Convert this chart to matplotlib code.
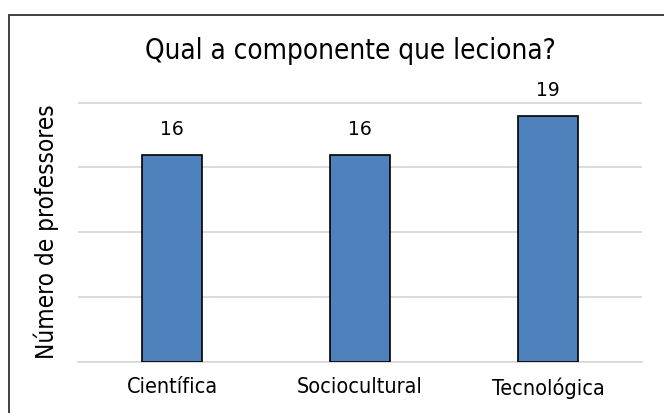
import matplotlib
matplotlib.use("Agg")
import matplotlib.pyplot as plt
from matplotlib.patches import Rectangle

categories = ["Científica", "Sociocultural", "Tecnológica"]
values = [16, 16, 19]
yticks = [0, 5, 10, 15, 20]

plt.rcParams['font.family'] = ['DejaVu Sans']
plt.rcParams['font.stretch'] = 'condensed'

fig = plt.figure(figsize=(6.64, 4.13), dpi=100)
ax = fig.add_axes([78 / 664, 51 / 413, 564 / 664, 260 / 413])

x = range(len(categories))
bars = ax.bar(x, values, width=0.32, color="#4F81BD", edgecolor="black", linewidth=1.2, zorder=3)
for b, v in zip(bars, values):
    ax.text(b.get_x() + b.get_width() / 2, v + 1.2, str(v), ha="center", va="bottom",
            fontsize=13.5, fontstretch="normal")

ax.set_xlim(-0.5, 2.5)
ax.set_ylim(0, 20.05)
ax.set_yticks(yticks)
ax.yaxis.grid(True, color="#D9D9D9", linewidth=1.3, zorder=0)
ax.tick_params(axis="y", length=0, labelleft=False)
ax.tick_params(axis="x", length=0, labelsize=15.5, pad=11)
ax.set_xticks(list(x))
ax.set_xticklabels(categories)
for s in ["top", "right", "left"]:
    ax.spines[s].set_visible(False)
ax.spines["bottom"].set_color("#D9D9D9")
ax.spines["bottom"].set_linewidth(1.3)

ax.set_ylabel("Número de professores", fontsize=17.5, labelpad=14)
fig.text(350 / 664, 1 - 51 / 413, "Qual a componente que leciona?", ha="center", va="center", fontsize=20)

fig.patches.append(Rectangle((9 / 664, -0.1), 1.2, 1.1 - 15 / 413, transform=fig.transFigure,
                             fill=False, edgecolor="#333333", linewidth=1.3))

fig.savefig("out.png", dpi=100)
